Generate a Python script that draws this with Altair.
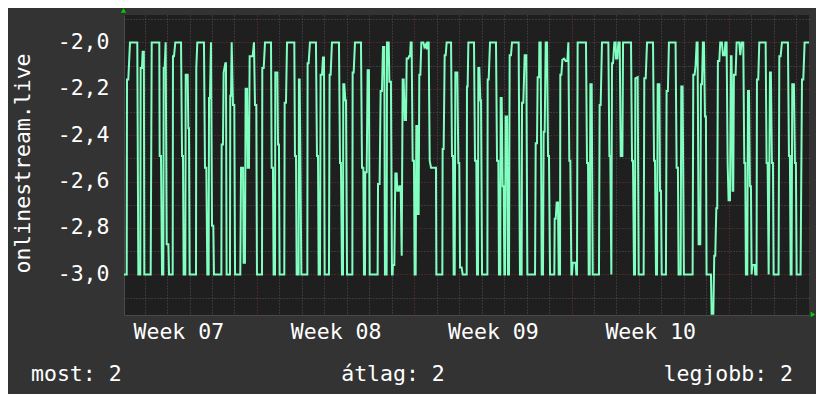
import altair as alt
import pandas as pd

# ---------------- data ----------------
# time in hours from the left edge of the graph, value of the series
hours = [
    0, 2.9, 3.2, 4.6, 6.4, 14.2, 15.3, 17.4, 17.8, 19.2, 19.9, 21.2, 21.7, 28.5, 29.6, 37.7,
    38.1, 39.5, 40.6, 42.0, 42.4, 43.4, 44.5, 45.6, 47.4, 48.1, 52.0, 52.3, 53.4, 54.8, 60.9,
    62.0, 63.0, 63.7, 65.5, 65.9, 68.0, 68.7, 69.4, 70.1, 76.9, 77.2, 78.3, 85.4, 86.5, 87.9,
    89.0, 90.4, 90.8, 91.8, 92.9, 94.0, 95.4, 96.1, 104.0, 104.3, 105.7, 106.4, 108.2, 108.9,
    109.6, 113.2, 113.5, 114.3, 115.0, 116.4, 117.8, 118.6, 124.2, 125.0, 127.1, 127.8, 129.2,
    129.9, 131.4, 132.1, 133.5, 134.2, 137.4, 138.8, 139.9, 141.3, 142.0,
    147.4, 147.7, 149.2, 150.6, 157.0, 157.7, 159.1, 159.8, 161.3, 161.6, 163.8, 164.5, 165.5,
    166.2, 171.2, 171.6, 173.0, 174.1, 181.9, 182.6, 183.7, 184.4, 186.5, 186.8, 187.6, 188.3,
    189.4, 195.8, 196.1, 197.2, 198.6, 205.0, 206.1, 207.2, 207.9, 209.3, 210.0, 211.5, 212.5,
    213.6, 214.3, 218.9, 219.6, 220.7, 222.1, 229.6, 230.7, 231.7, 232.8, 233.9, 234.2, 235.3,
    236.4, 237.1, 238.2, 243.9, 244.2, 245.3, 246.7, 253.1, 254.2, 255.6, 256.3, 257.4, 257.7,
    259.2, 260.2, 261.6, 262.4, 270.9, 271.3, 273.0, 274.1, 275.5, 276.6, 278.0, 278.7, 280.5,
    280.9, 282.7, 283.4, 285.1, 286.2,
    286.9, 287.2, 288.7, 289.8, 291.2, 291.9, 293.4, 294.1, 295.5, 296.6, 297.6, 298.7, 299.8,
    301.2, 301.9, 303.7, 304.4, 305.5, 306.2, 307.2, 308.3, 309.7, 310.4, 311.5, 312.2, 313.3,
    313.6, 314.7, 315.4, 316.5, 317.6, 319.7, 320.8, 322.2, 323.3, 324.0, 325.4, 326.5, 327.9,
    333.2, 333.6, 340.0, 340.3, 341.4, 342.5, 343.6, 344.6, 349.3, 350.3, 351.4, 352.1, 353.2,
    353.9, 356.0, 357.1, 358.1, 358.9, 360.6, 361.7, 366.0, 366.3, 367.0, 367.8, 373.8, 374.9,
    376.3, 377.0, 378.1, 378.4, 379.5, 380.6, 381.3, 382.4, 388.1, 388.4, 389.5, 390.9, 397.3,
    398.4, 399.8, 400.5, 401.9, 402.3, 403.4, 404.4, 405.5, 406.2, 406.9, 407.6, 409.1, 410.1,
    411.2, 411.9, 413.3, 414.4, 421.5, 422.9, 424.7, 425.1, 426.5, 427.9, 429.7, 430.8,
    439.0, 439.7, 441.1, 441.8, 443.3, 443.6, 445.0, 446.1, 447.5, 448.2, 449.3, 450.4, 451.8,
    452.9, 453.9, 455.0, 459.6, 460.0, 461.1, 462.1, 463.5, 464.3, 465.7, 466.0, 467.1, 468.2,
    470.0, 471.7, 473.5, 474.6, 475.6, 476.7, 477.8, 478.5, 479.2, 482.4, 483.1, 483.8, 484.5,
    493.4, 494.5, 495.6, 496.3, 497.4, 498.1, 499.5, 500.6, 507.3, 508.0, 509.1, 510.5, 517.3,
    518.4, 519.4, 520.5, 521.2, 522.3, 523.7, 525.1, 525.5, 526.9, 528.0, 529.4, 530.5, 532.3,
    533.0, 541.5, 542.6, 543.6, 544.7, 545.8, 546.1, 548.6, 549.7, 555.0, 555.7, 557.2, 558.6,
    565.0, 566.1, 567.1, 568.2, 569.3, 570.0, 571.8, 572.5, 573.5, 574.3,
    578.8, 579.5, 580.9, 582.0, 589.1, 590.2, 591.6, 592.3, 594.5, 595.2, 596.6, 598.0, 607.3,
    608.0, 609.4, 610.5, 611.6, 612.6, 613.7, 615.5, 616.2, 617.3, 618.3, 619.4, 620.5, 621.5,
    622.2, 626.9, 627.6, 629.4, 630.4, 631.5, 632.6, 633.6, 634.3, 635.8, 636.8, 638.6, 639.7,
    641.5, 642.2, 643.6, 644.7, 645.7, 647.2, 648.2, 648.9, 650.0, 650.7, 651.4, 653.2, 654.3,
    657.1, 658.2, 659.6, 661.4, 662.5, 663.5, 664.2, 665.7, 666.4, 667.5, 668.5, 669.6, 670.3,
    671.0, 673.5, 674.2, 675.6, 676.0, 677.4, 678.5, 685.3, 686.3, 687.4, 688.5, 689.9, 690.9,
    692.0, 693.1, 693.8, 699.1, 699.9, 701.3, 702.7, 709.1, 710.2, 711.2, 712.0, 713.0, 713.7,
    715.5, 716.6, 717.6, 718.4, 722.6, 724.1, 725.5, 726.9, 731.6,
]
values = [
    -3.0, -3.0, -2.16, -2.16, -2.0, -2.0, -3.0, -3.0, -2.11, -2.11, -2.04, -2.04, -3.0, -3.0, -2.0, -2.0,
    -2.49, -2.49, -3.0, -3.0, -2.11, -2.11, -2.0, -2.87, -2.87, -3.0, -3.0, -2.06, -2.06, -2.0, -2.0,
    -2.49, -2.49, -3.0, -3.0, -2.14, -2.14, -2.37, -2.37, -3.0, -3.0, -2.11, -2.0, -2.0, -2.54, -2.54,
    -3.0, -3.0, -2.24, -2.24, -2.0, -2.79, -2.79, -3.0, -3.0, -2.44, -2.44, -2.13, -2.09, -2.09,
    -3.0, -3.0, -2.23, -2.23, -2.0, -2.27, -2.27, -3.0, -3.0, -2.54, -2.54, -2.95, -2.95,
    -2.20, -2.20, -2.54, -2.54, -2.06, -2.06, -2.0, -2.27, -2.27, -3.0,
    -3.0, -2.11, -2.11, -2.0, -2.0, -2.54, -2.54, -3.0, -3.0, -2.13, -2.13, -2.44, -2.44,
    -3.0, -3.0, -2.26, -2.26, -2.0, -2.0, -2.49, -2.49, -3.0, -3.0, -2.16, -2.16, -2.46,
    -3.0, -3.0, -2.09, -2.09, -2.0, -2.0, -2.49, -2.49, -3.0, -3.0, -2.14, -2.14, -2.065,
    -2.065, -3.0, -3.0, -2.14, -2.14, -2.0, -2.0, -2.52, -2.52, -3.0, -3.0, -2.18, -2.18,
    -2.25, -2.25, -3.0, -3.0, -2.13, -2.13, -2.0, -2.0, -2.54, -2.54, -3.0, -3.0, -2.56,
    -2.56, -2.12, -2.12, -3.0, -3.0, -2.61, -2.61, -2.21, -2.21, -2.02, -2.02, -3.0, -3.0,
    -2.0, -2.0, -2.17, -2.17, -3.0,
    -3.0, -2.96, -2.96, -2.565, -2.565, -2.64, -2.64, -2.62, -2.62, -2.92, -2.16, -2.16, -2.335,
    -2.335, -2.07, -2.07, -2.06, -2.06, -2.0, -2.0, -2.51, -2.51, -3.0, -3.0, -2.36, -2.36,
    -2.74, -2.74, -2.14, -2.14, -2.0, -2.0, -2.02, -2.01, -2.03, -2.0, -2.0, -2.51, -2.54,
    -2.54, -3.0, -3.0, -2.46, -2.46, -2.055, -2.055, -2.0, -2.0, -2.49, -2.49, -3.0, -3.0,
    -2.13, -2.13, -2.52, -2.52, -2.97, -2.97, -3.0, -3.0, -2.19, -2.19, -2.0, -2.0, -2.51,
    -2.51, -3.0, -3.0, -2.11, -2.11, -2.25, -2.25, -3.0, -3.0, -2.16, -2.16, -2.0, -2.0,
    -2.51, -2.51, -3.0, -3.0, -2.24, -2.24, -2.62, -2.62, -3.0, -3.0, -2.32, -2.32, -3.0,
    -3.0, -2.055, -2.055, -2.0, -2.0, -3.0, -3.0, -2.26, -2.26, -2.055, -2.055, -3.0,
    -3.0, -2.435, -2.435, -2.15, -2.15, -2.0, -2.0, -3.0, -3.0, -2.385, -2.385, -2.0, -2.0,
    -2.49, -2.49, -3.0, -3.0, -2.76, -2.76, -2.69, -2.69, -3.0, -3.0, -2.14, -2.14, -2.075,
    -2.07, -2.08, -2.08, -2.0, -2.51, -2.51, -3.0, -3.0, -2.95, -2.95, -3.0, -3.0, -2.0,
    -2.0, -2.52, -2.52, -3.0, -3.0, -2.18, -2.18, -3.0, -3.0, -2.27, -2.27, -2.0, -2.0,
    -2.49, -2.49, -3.0, -2.09, -2.09, -2.0, -2.0, -2.07, -2.07, -2.0, -2.0, -2.49, -2.49,
    -2.0, -2.0, -2.51, -2.51, -3.0, -3.0, -2.155, -2.15, -3.0, -3.0, -2.155, -2.155, -2.0,
    -2.0, -2.51, -2.51, -3.0, -3.0, -2.18, -2.18, -2.64, -2.64, -3.0,
    -3.0, -2.21, -2.21, -2.0, -2.0, -2.54, -2.54, -3.0, -3.0, -2.19, -2.19, -3.0, -3.0,
    -2.14, -2.14, -2.10, -2.0, -2.0, -2.87, -2.87, -2.18, -2.18, -2.0, -2.0, -2.32, -2.32,
    -3.0, -3.0, -3.17, -3.17, -2.92, -2.92, -2.715, -2.715, -2.08, -2.08, -2.0, -2.0, -2.055,
    -2.055, -2.0, -2.0, -2.52, -2.68, -2.68, -2.06, -2.06, -2.64, -2.64, -2.14, -2.14, -2.0,
    -2.0, -2.055, -2.0, -2.0, -2.52, -2.52, -3.0, -3.0, -2.21, -2.21, -2.62, -2.62, -3.0,
    -2.96, -2.96, -3.0, -3.0, -2.16, -2.16, -2.0, -2.0, -2.52, -2.52, -3.0, -2.13, -2.13,
    -2.52, -2.52, -3.0, -3.0, -2.06, -2.06, -2.0, -2.0, -2.49, -2.49, -3.0, -3.0, -2.18,
    -2.18, -2.52, -2.52, -3.0, -3.0, -2.16, -2.16, -2.0, -2.0,
]

week_labels = ["Week 07", "Week 08", "Week 09", "Week 10"]
week_label_hours = [58, 226, 394, 562]       # middle of each week
week_start_hours = [142, 310, 478, 646]      # week boundaries (major grid)
y_title = "onlinestream.live"
legend_names = ["most", "átlag", "legjobb"]
legend_values = [2, 2, 2]

X_DOMAIN = [0, 731.6]
Y_DOMAIN = [-3.175, -1.882]

# ---------------- style ----------------
MONO = "DejaVu Sans Mono"
FS = 21.5
BG = "#333333"
CANVAS = "#1f1f1f"
LINE = "#80ffc0"
MINOR = "#555555"
MAJOR = "#743232"
ARROW = "#00d000"

n = min(len(hours), len(values))
df = pd.DataFrame({"h": hours[:n], "v": values[:n]})

day_grid = list(range(22, 731, 24))
x_ticks = sorted(day_grid + week_label_hours)
x_label_expr = " : ".join(
    f"datum.value == {h} ? '{lab}'" for h, lab in zip(week_label_hours, week_labels)
) + " : ''"

y_ticks = [round(-3.1 + 0.1 * i, 1) for i in range(13)]
is_major_y = "abs(round(datum.value * 10)) % 2 == 0"
y_label_expr = (
    f"{is_major_y} ? (datum.value < 0 ? '-' : '') + "
    "replace(format(abs(datum.value), '.1f'), '.', ',') : ''"
)

x_axis = alt.Axis(
    title=None,
    values=x_ticks,
    labelExpr=x_label_expr,
    labelFont=MONO,
    labelFontSize=FS,
    labelColor="#ffffff",
    labelBaseline="alphabetic",
    labelPadding=23,
    labelOverlap=False,
    labelFlush=False,
    ticks=False,
    grid=True,
    gridDash=[1, 2],
    gridColor={
        "condition": {"test": f"indexof({week_start_hours}, datum.value) >= 0", "value": MAJOR},
        "value": MINOR,
    },
    gridOpacity={
        "condition": {"test": f"indexof({week_label_hours}, datum.value) >= 0", "value": 0},
        "value": 1,
    },
    domainColor="#4a4a4a",
)

y_axis = alt.Axis(
    title=y_title,
    titleFont=MONO,
    titleFontSize=FS,
    titleFontWeight="normal",
    titleColor="#ffffff",
    titleAngle=270,
    titleAlign="center",
    titleBaseline="alphabetic",
    titleX=-95,
    titleY=148,
    values=y_ticks,
    labelExpr=y_label_expr,
    labelFont=MONO,
    labelFontSize=FS,
    labelColor="#ffffff",
    labelBaseline="middle",
    labelPadding=15,
    labelOverlap=False,
    labelFlush=False,
    ticks=False,
    grid=True,
    gridDash=[1, 2],
    gridColor={"condition": {"test": is_major_y, "value": MAJOR}, "value": MINOR},
    domainColor="#4a4a4a",
)

line = alt.Chart(df).mark_line(color=LINE, strokeWidth=2, clip=True).encode(
    x=alt.X("h:Q", scale=alt.Scale(domain=X_DOMAIN, nice=False, zero=False), axis=x_axis),
    y=alt.Y("v:Q", scale=alt.Scale(domain=Y_DOMAIN, nice=False, zero=False), axis=y_axis),
    order="h:Q",
)

one = pd.DataFrame({"k": [0]})

arrow_up = alt.Chart(one).mark_point(
    shape="triangle-up", filled=True, size=28, color=ARROW, opacity=1
).encode(x=alt.value(-0.5), y=alt.value(-4.5))
arrow_right = alt.Chart(one).mark_point(
    shape="triangle-right", filled=True, size=28, color=ARROW, opacity=1
).encode(x=alt.value(689), y=alt.value(299.5))

legend_layers = []
legend_pos = [(-93, "left"), (269, "center"), (669, "right")]
for name, val, (xp, al) in zip(legend_names, legend_values, legend_pos):
    legend_layers.append(
        alt.Chart(one).mark_text(
            text=f"{name}: {val}", font=MONO, fontSize=FS, color="#ffffff",
            align=al, baseline="alphabetic",
        ).encode(x=alt.value(xp), y=alt.value(366))
    )

chart = alt.layer(line, arrow_up, arrow_right, *legend_layers).properties(
    width=685,
    height=300,
    autosize=alt.AutoSizeParams(type="none"),
    padding={"left": 116, "top": 7, "right": 7, "bottom": 79},
    background=BG,
).configure_view(fill=CANVAS, stroke=None)

chart.save("out.html", embed_options={"renderer": "svg", "actions": False})
